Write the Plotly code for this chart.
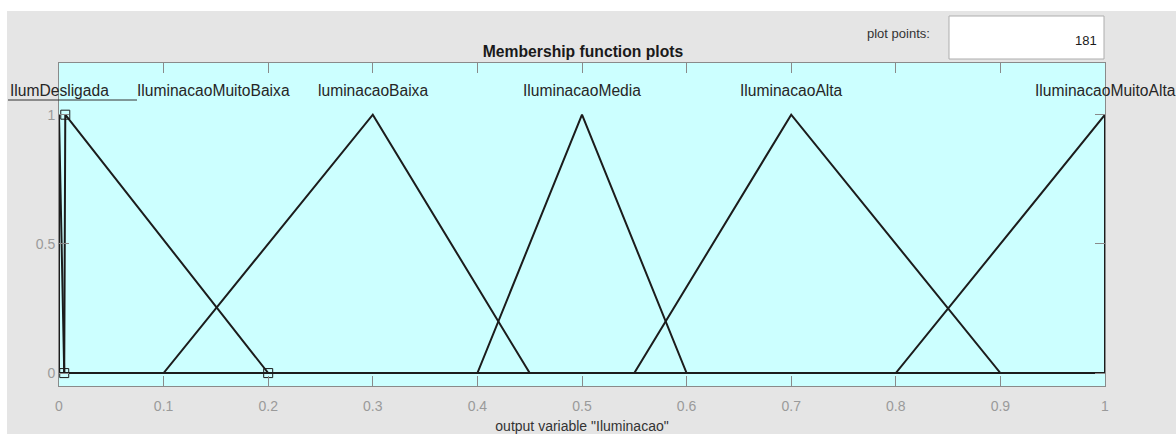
import plotly.graph_objects as go

# Membership functions (trimf parameters a, b, c) of output variable "Iluminacao"
mf_names = ["IlumDesligada", "IluminacaoMuitoBaixa", "luminacaoBaixa",
            "IluminacaoMedia", "IluminacaoAlta", "IluminacaoMuitoAlta"]
mf_a = [0.0, 0.005, 0.10, 0.40, 0.55, 0.80]
mf_b = [0.0, 0.006, 0.30, 0.50, 0.70, 1.00]
mf_c = [0.005, 0.20, 0.45, 0.60, 0.90, 1.00]
label_x = [0.0, 0.148, 0.30, 0.50, 0.70, 1.0]
label_y = 1.1
selected_mf = 1  # MF drawn with square vertex markers

x_ticks = [0.0, 0.1, 0.2, 0.3, 0.4, 0.5, 0.6, 0.7, 0.8, 0.9, 1.0]
x_tick_text = ["0", "0.1", "0.2", "0.3", "0.4", "0.5", "0.6", "0.7", "0.8", "0.9", "1"]
y_ticks = [0, 0.5, 1]
y_tick_text = ["0", "0.5", "1"]
plot_points = 181
x_range = [0.0, 1.0]
y_range = [-0.05, 1.2]

LINE = "#1c1c1c"
FRAME = "#8a8a8a"
TICKFONT = "#9a9a9a"
FONT = "Liberation Sans, Arial, sans-serif"

fig = go.Figure()
for i, name in enumerate(mf_names):
    a, b, c = mf_a[i], mf_b[i], mf_c[i]
    xs = [x_range[0], a, b, c, x_range[1]]
    ys = [0, 0, 1, 0, 0]
    fig.add_trace(go.Scatter(x=xs, y=ys, mode="lines", name=name,
                             line=dict(color=LINE, width=2),
                             showlegend=False, hoverinfo="skip", cliponaxis=False))
    if i == selected_mf:
        fig.add_trace(go.Scatter(x=[a, b, c], y=[0, 1, 0], mode="markers",
                                 marker=dict(symbol="square-open", size=9,
                                             color=LINE, line=dict(width=1)),
                                 showlegend=False, hoverinfo="skip", cliponaxis=False))

# MF labels
for name, lx in zip(mf_names, label_x):
    fig.add_annotation(x=lx, y=label_y, xref="x", yref="y", text=name,
                       showarrow=False, xanchor="center", yanchor="middle", yshift=-2,
                       font=dict(family=FONT, size=15.6, color="#262626"))

L, R, T, B = 59, 71, 63, 48
W, H = 1176, 434
pw, ph = W - L - R, H - T - B

def px(xp):
    return (xp - L) / pw

def py(yp):
    return (H - B - yp) / ph

shapes = [
    # white strips around the grey figure background
    dict(type="rect", xref="paper", yref="paper", x0=px(0), x1=px(7), y0=py(H), y1=py(0),
         fillcolor="white", line=dict(width=0), layer="below"),
    dict(type="rect", xref="paper", yref="paper", x0=px(0), x1=px(W), y0=py(11), y1=py(0),
         fillcolor="white", line=dict(width=0), layer="below"),
    # plot points box
    dict(type="rect", xref="paper", yref="paper", x0=px(949), x1=px(1104), y0=py(59), y1=py(16),
         fillcolor="white", line=dict(color="#adadad", width=1)),
    # underline under first label
    dict(type="line", xref="paper", yref="paper", x0=px(8), x1=px(137), y0=py(100), y1=py(100),
         line=dict(color="#333333", width=1)),
]

fig.add_annotation(x=px(932), y=py(33), xref="paper", yref="paper", text="plot points:",
                   showarrow=False, xanchor="right", yanchor="middle",
                   font=dict(family=FONT, size=13, color="#333333"))
fig.add_annotation(x=px(1099), y=py(40), xref="paper", yref="paper", text=str(plot_points),
                   showarrow=False, xanchor="right", yanchor="middle",
                   font=dict(family=FONT, size=13, color="#1a1a1a"))

fig.update_layout(
    width=W, height=H,
    margin=dict(l=L, r=R, t=T, b=B, autoexpand=False),
    paper_bgcolor="#e5e5e5",
    plot_bgcolor="#ccffff",
    shapes=shapes,
    title=dict(text="<b>Membership function plots</b>", x=px(583), xref="paper", xanchor="center",
               y=1 - 52 / H, yref="container", yanchor="middle",
               font=dict(family=FONT, size=15.7, color="#1a1a1a")),
    xaxis=dict(range=x_range, tickvals=x_ticks, ticktext=x_tick_text,
               ticks="inside", ticklen=10, tickcolor=FRAME, tickwidth=1,
               showline=True, linecolor=FRAME, linewidth=1, mirror="ticks",
               showgrid=False, zeroline=False, ticklabelstandoff=7, automargin=False,
               tickfont=dict(family=FONT, size=14, color=TICKFONT),
               title=dict(text='output variable "Iluminacao"', standoff=17,
                          font=dict(family=FONT, size=14, color="#333333"))),
    yaxis=dict(range=y_range, tickvals=y_ticks, ticktext=y_tick_text,
               ticks="inside", ticklen=10, tickcolor=FRAME, tickwidth=1,
               showline=True, linecolor=FRAME, linewidth=1, mirror="ticks",
               showgrid=False, zeroline=False, ticklabelstandoff=0, automargin=False,
               tickfont=dict(family=FONT, size=14, color=TICKFONT)),
)

fig.write_html("out.html", config={"displayModeBar": False},
               post_script="document.body.style.margin='0px';document.body.style.overflow='hidden';")
